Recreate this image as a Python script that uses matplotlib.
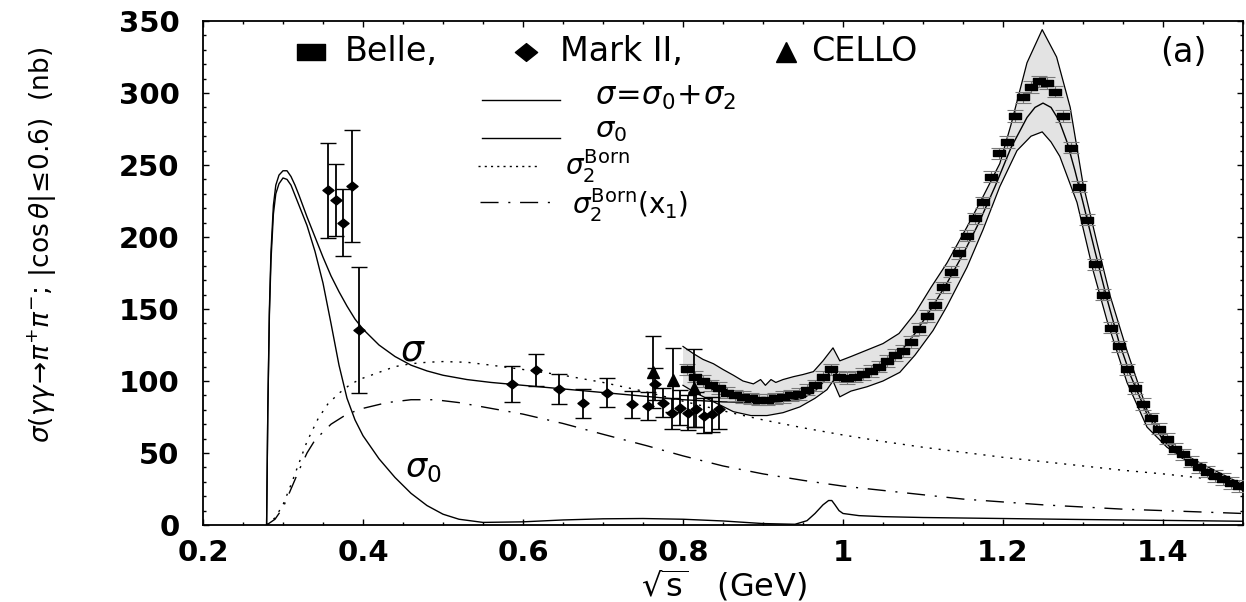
import numpy as np
import matplotlib
matplotlib.use("Agg")
import matplotlib.pyplot as plt
from matplotlib.path import Path
from matplotlib.ticker import MultipleLocator, FixedLocator

# ---------------- data ----------------
sig_x = [0.2795, 0.281, 0.283, 0.285, 0.288, 0.291, 0.295, 0.30, 0.305, 0.31, 0.315, 0.32, 0.33,
         0.34, 0.35, 0.36, 0.37, 0.38, 0.39, 0.40, 0.42, 0.44, 0.46, 0.48, 0.50, 0.53, 0.56, 0.60,
         0.65, 0.70, 0.75, 0.80, 0.85, 0.90, 0.93, 0.95, 0.965, 0.975, 0.983, 0.988, 0.993, 1.00,
         1.02, 1.05, 1.07, 1.09, 1.11, 1.13, 1.15, 1.17, 1.19, 1.21, 1.23, 1.24, 1.25, 1.26, 1.27,
         1.28, 1.29, 1.30, 1.315, 1.33, 1.345, 1.36, 1.38, 1.40, 1.42, 1.44, 1.46, 1.48, 1.50]
sig_y = [0, 80, 150, 190, 222, 236, 243, 246, 246, 242, 236, 229, 214,
         200, 186, 173, 162, 152, 143, 136, 125, 117, 111, 107, 104, 101, 99, 97,
         94.5, 92, 89.5, 87, 85.5, 85, 86, 88, 93, 99, 106, 108, 104, 101,
         101, 110, 119, 133, 150, 168, 188, 210, 235, 262, 283, 290, 293, 290, 281,
         266, 246, 224, 190, 157, 127, 103, 77, 59, 48, 41, 35, 30, 26]

sig0_x = [0.2795, 0.281, 0.283, 0.285, 0.288, 0.291, 0.295, 0.30, 0.305, 0.31, 0.315, 0.32, 0.33,
          0.34, 0.35, 0.36, 0.37, 0.38, 0.39, 0.40, 0.42, 0.44, 0.46, 0.48, 0.50, 0.52, 0.55, 0.60,
          0.65, 0.70, 0.75, 0.80, 0.85, 0.90, 0.94, 0.955, 0.965, 0.975, 0.982, 0.986, 0.99, 0.995,
          1.00, 1.02, 1.05, 1.10, 1.20, 1.30, 1.40, 1.50]
sig0_y = [0, 78, 146, 184, 216, 230, 237, 241, 240, 236, 229, 222, 208,
          190, 168, 140, 111, 88, 73, 62, 46, 33, 22, 13.5, 7.5, 4, 1.8, 2.2,
          3.5, 4.3, 4.5, 4, 2.8, 1, 0.5, 3, 8, 14, 17, 17, 14, 10,
          8, 6.5, 5.8, 5.2, 4.5, 3.8, 3.2, 2.6]

born_x = [0.2795, 0.29, 0.30, 0.31, 0.32, 0.33, 0.344, 0.356, 0.37, 0.385, 0.40, 0.42, 0.44, 0.46,
          0.48, 0.50, 0.53, 0.56, 0.60, 0.65, 0.70, 0.75, 0.80, 0.86, 0.90, 0.95, 1.00, 1.05, 1.10,
          1.15, 1.20, 1.25, 1.30, 1.35, 1.40, 1.45, 1.50]
born_y = [0, 5, 14, 28, 43, 58, 74, 84, 91.5, 98, 102, 106, 110, 112,
          113, 113.5, 113, 111, 108, 104, 99, 93, 86, 78, 73, 67.5, 62.5, 58, 54,
          50.5, 47, 44, 41, 38, 35.5, 32.5, 30]

bornx1_x = [0.2795, 0.29, 0.30, 0.31, 0.32, 0.33, 0.34, 0.36, 0.38, 0.40, 0.43, 0.46, 0.49, 0.52,
            0.55, 0.60, 0.65, 0.70, 0.755, 0.80, 0.85, 0.90, 0.95, 1.00, 1.05, 1.10, 1.15, 1.20,
            1.25, 1.30, 1.35, 1.40, 1.45, 1.50]
bornx1_y = [0, 4, 12, 25, 38, 50, 59, 70, 77, 81, 85, 87, 87, 85,
            82, 77, 70.5, 63, 55, 48, 41, 35.5, 31, 27, 24, 21, 18, 16,
            14, 12.5, 11, 10, 9, 8]

band_up_x = [0.800, 0.813, 0.825, 0.838, 0.850, 0.863, 0.875, 0.888, 0.897, 0.903, 0.910, 0.916,
             0.925, 0.938, 0.950, 0.963, 0.975, 0.9875, 0.996, 1.01, 1.03, 1.05, 1.07, 1.09, 1.11,
             1.13, 1.155, 1.175, 1.196, 1.21, 1.23, 1.249, 1.267, 1.284, 1.30, 1.3175, 1.334,
             1.355, 1.38, 1.405, 1.43, 1.45, 1.475, 1.50]
band_up_y = [124, 119, 115, 112, 108, 104, 100, 98, 101, 97, 101, 99,
             101, 103, 104.5, 106.5, 114, 123, 114, 117, 121.5, 126, 133, 147, 165,
             182, 207, 228, 251, 278, 321, 344, 325, 290, 237, 196, 159,
             121, 80, 58, 48, 42, 35, 28]
band_lo_x = [0.800, 0.815, 0.838, 0.863, 0.885, 0.905, 0.925, 0.946, 0.965, 0.98, 0.9875, 0.996,
             1.01, 1.03, 1.05, 1.071, 1.09, 1.1125, 1.13, 1.155, 1.175, 1.196, 1.2175, 1.235,
             1.249, 1.26, 1.271, 1.2925, 1.3125, 1.33, 1.355, 1.38, 1.405, 1.446, 1.475, 1.50]
band_lo_y = [97, 92, 85.6, 78.7, 76, 76, 78, 82, 88, 94, 100, 89,
             93, 96, 100, 106, 118, 135, 152, 179, 205, 235, 260, 270,
             273, 266, 256, 224, 177, 142, 99, 68, 54, 38, 30, 24]

belle_x = [0.805, 0.815, 0.825, 0.835, 0.845, 0.855, 0.865, 0.875, 0.885, 0.895,
           0.905, 0.915, 0.925, 0.935, 0.945, 0.955, 0.965, 0.975, 0.985, 0.995,
           1.005, 1.015, 1.025, 1.035, 1.045, 1.055, 1.065, 1.075, 1.085, 1.095,
           1.105, 1.115, 1.125, 1.135, 1.145, 1.155, 1.165, 1.175, 1.185, 1.195,
           1.205, 1.215, 1.225, 1.235, 1.245, 1.255, 1.265, 1.275, 1.285, 1.295,
           1.305, 1.315, 1.325, 1.335, 1.345, 1.355, 1.365, 1.375, 1.385, 1.395,
           1.405, 1.415, 1.425, 1.435, 1.445, 1.455, 1.465, 1.475, 1.485, 1.495]
belle_y = [108, 103, 100, 97, 95, 92, 90, 89, 88, 87,
           87, 88, 89, 90, 91, 94, 97, 103, 108, 103,
           102, 103, 105, 107, 110, 114, 118, 121, 127, 136,
           145, 153, 165, 176, 189, 201, 213, 224, 242, 258,
           266, 284, 297, 304, 308, 307, 301, 284, 262, 235,
           212, 181, 160, 137, 124, 108, 95, 84, 74, 67,
           60, 53, 49, 44, 40, 37, 34, 32, 29, 27]
belle_err = 4.0

mark_x = [0.356, 0.366, 0.375, 0.386, 0.395, 0.586, 0.616, 0.645, 0.675, 0.705, 0.736,
          0.756, 0.765, 0.775, 0.786, 0.796, 0.806, 0.816, 0.826, 0.836, 0.845]
mark_y = [232.6, 225.7, 210, 235.4, 135.4, 97.7, 107.6, 94.4, 84.5, 92, 83.8,
          82.6, 97.9, 85, 77.5, 81.5, 78, 80.3, 76, 76.8, 80.6]
mark_err = [33, 25, 23, 39, 44, 12.5, 11, 10.5, 10, 10, 9.5,
            10, 11, 10, 11, 12, 12, 12, 12, 12, 14]

cello_x = [0.763, 0.787, 0.814]
cello_y = [106, 100.7, 95]
cello_err = [25, 22, 27]

xticks = [0.2, 0.4, 0.6, 0.8, 1.0, 1.2, 1.4]
xticklabels = ["0.2", "0.4", "0.6", "0.8", "1", "1.2", "1.4"]
yticks = [0, 50, 100, 150, 200, 250, 300, 350]
yticklabels = ["0", "50", "100", "150", "200", "250", "300", "350"]

# ---------------- figure ----------------
W, H = 1246, 602
fig = plt.figure(figsize=(W / 100, H / 100), dpi=100)
ax = fig.add_axes([203 / W, 1 - 525 / H, (1243 - 203) / W, (525 - 21) / H])
ax.set_xlim(0.2, 1.5)
ax.set_ylim(0, 350)

# uncertainty band
poly_x = list(band_up_x) + list(band_lo_x)[::-1]
poly_y = list(band_up_y) + list(band_lo_y)[::-1]
ax.fill(poly_x, poly_y, facecolor="#e3e3e3", edgecolor="none", zorder=1)
ax.plot(band_up_x, band_up_y, color="black", lw=0.9, zorder=2)
ax.plot(band_lo_x, band_lo_y, color="black", lw=0.9, zorder=2)

# theory curves
ax.plot(sig_x, sig_y, color="black", lw=1.0, zorder=3)
ax.plot(sig0_x, sig0_y, color="black", lw=1.0, zorder=3)
ax.plot(born_x, born_y, color="black", lw=1.0, dashes=(1.5, 5), zorder=3)
ax.plot(bornx1_x, bornx1_y, color="black", lw=1.0, dashes=(13, 7, 1.5, 7), zorder=3)

# markers
rect = Path([(-1, -0.55), (1, -0.55), (1, 0.55), (-1, 0.55), (-1, -0.55)],
            [Path.MOVETO, Path.LINETO, Path.LINETO, Path.LINETO, Path.CLOSEPOLY])
diam = Path([(-1, 0), (0, 0.8), (1, 0), (0, -0.8), (-1, 0)],
            [Path.MOVETO, Path.LINETO, Path.LINETO, Path.LINETO, Path.CLOSEPOLY])

ax.errorbar(belle_x, belle_y, yerr=belle_err, fmt="none", ecolor="#7a7a7a",
            elinewidth=0.8, capsize=6, capthick=0.8, zorder=4)
ax.plot(belle_x, belle_y, linestyle="none", marker=rect, markersize=9,
        color="black", zorder=5)

ax.errorbar(mark_x, mark_y, yerr=mark_err, fmt="none", ecolor="black",
            elinewidth=1.3, capsize=6, capthick=1.0, zorder=6)
ax.plot(mark_x, mark_y, linestyle="none", marker=diam, markersize=8,
        color="black", zorder=7)

ax.errorbar(cello_x, cello_y, yerr=cello_err, fmt="none", ecolor="black",
            elinewidth=1.3, capsize=6, capthick=1.0, zorder=6)
ax.plot(cello_x, cello_y, linestyle="none", marker="^", markersize=9,
        color="black", zorder=7)

# ---------------- axes styling ----------------
for s in ax.spines.values():
    s.set_linewidth(1.3)
ax.xaxis.set_major_locator(FixedLocator(xticks))
ax.set_xticklabels(xticklabels)
ax.yaxis.set_major_locator(FixedLocator(yticks))
ax.set_yticklabels(yticklabels)
ax.xaxis.set_minor_locator(MultipleLocator(0.05))
ax.yaxis.set_minor_locator(MultipleLocator(10))
ax.tick_params(which="both", direction="in", top=True, right=True, width=1.0)
ax.tick_params(which="major", length=4)
ax.tick_params(which="minor", length=2.5)
ax.tick_params(axis="x", which="major", pad=10)
ax.tick_params(axis="y", which="major", pad=17)
for lab in ax.get_xticklabels() + ax.get_yticklabels():
    lab.set_fontfamily("DejaVu Sans")
    lab.set_fontsize(21)
    lab.set_fontweight("bold")

fig.text(724 / W, 1 - 586 / H, r"$\sqrt{\mathrm{s}}$   (GeV)", ha="center", va="center",
         fontsize=23, family="DejaVu Sans")
fig.text(42 / W, 1 - 245 / H,
         r"$\sigma(\gamma\gamma\!\rightarrow\!\pi^{+}\pi^{-};\,|\cos\theta|\!\leq\!0.6)$  (nb)",
         ha="center", va="center", rotation=90, fontsize=19, family="DejaVu Sans")

# ---------------- in-plot legend / labels ----------------
tfont = dict(family="DejaVu Sans", fontsize=24)
ax.plot([0.335], [328.5], linestyle="none", marker=rect, markersize=20, color="black")
ax.text(0.377, 328.5, "Belle,", ha="left", va="center", **tfont)
ax.plot([0.604], [328.5], linestyle="none", marker=diam, markersize=16, color="black")
ax.text(0.646, 328.5, "Mark II,", ha="left", va="center", **tfont)
ax.plot([0.929], [328.5], linestyle="none", marker="^", markersize=14, color="black")
ax.text(0.960, 328.5, "CELLO", ha="left", va="center", **tfont)
ax.text(1.425, 328, "(a)", ha="center", va="center", **tfont)

ax.plot([0.549, 0.646], [295, 295], color="black", lw=1.0)
ax.plot([0.549, 0.646], [269, 269], color="black", lw=1.0)
ax.plot([0.544, 0.620], [249, 249], color="black", lw=1.0, dashes=(1.5, 3))
ax.plot([0.546, 0.6375], [224, 224], color="black", lw=1.0, dashes=(13, 7, 1.5, 7))

lfont = dict(family="DejaVu Sans", fontsize=22)
ax.text(0.690, 297, r"$\sigma\!=\!\sigma_0\!+\!\sigma_2$", ha="left", va="center", **lfont)
ax.text(0.690, 274, r"$\sigma_0$", ha="left", va="center", family="DejaVu Sans", fontsize=21)
ax.text(0.653, 249, r"$\sigma_2^{\mathrm{Born}}$", ha="left", va="center",
        family="DejaVu Sans", fontsize=20)
ax.text(0.661, 222, r"$\sigma_2^{\mathrm{Born}}$(x$_1$)", ha="left", va="center",
        family="DejaVu Sans", fontsize=20)

ax.text(0.4625, 121, r"$\sigma$", ha="center", va="center", family="DejaVu Sans", fontsize=26)
ax.text(0.475, 39, r"$\sigma_0$", ha="center", va="center", family="DejaVu Sans", fontsize=24)

fig.savefig("out.png", dpi=100)
